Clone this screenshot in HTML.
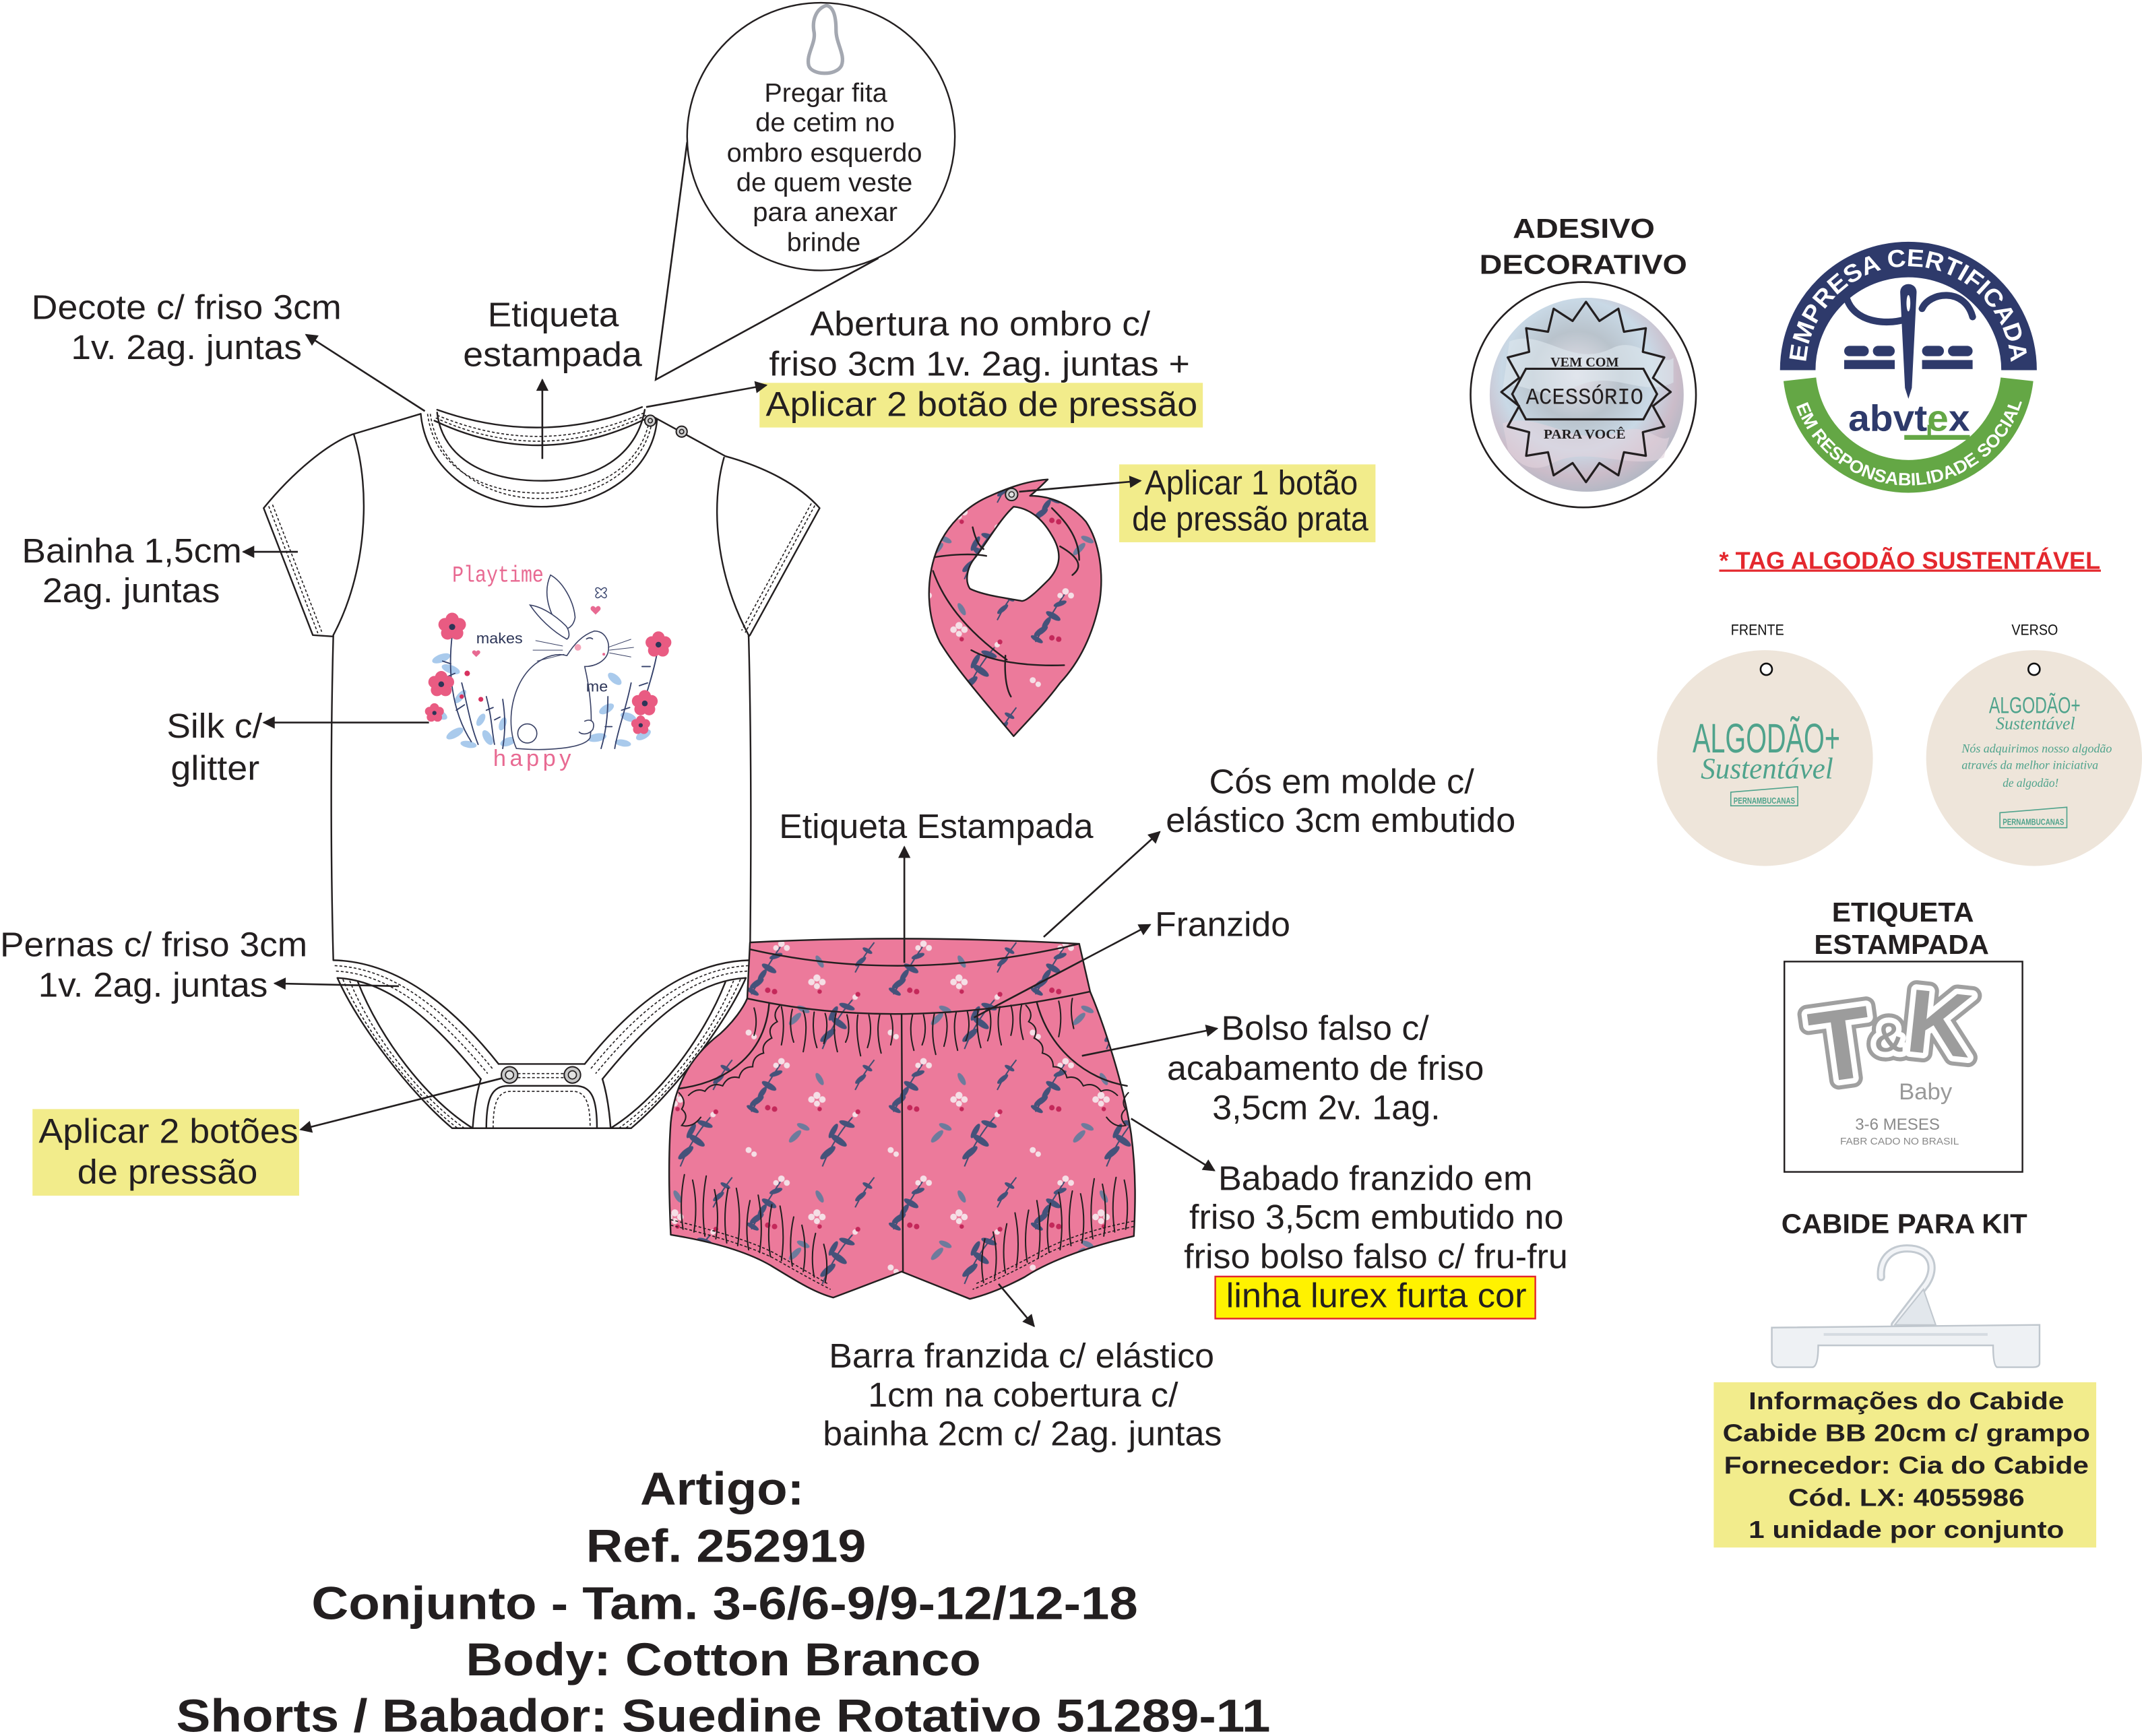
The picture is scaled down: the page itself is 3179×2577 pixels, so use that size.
<!DOCTYPE html>
<html><head><meta charset="utf-8">
<style>
html,body{margin:0;padding:0;background:#fff;}
svg{display:block;}
.l{font-family:"Liberation Sans Narrow","Liberation Sans",Arial,sans-serif;font-size:25px;fill:#231f20;}
.c{font-family:"Liberation Sans Narrow","Liberation Sans",Arial,sans-serif;font-size:19px;fill:#231f20;}
.b{font-family:"Liberation Sans Narrow","Liberation Sans",Arial,sans-serif;font-weight:bold;font-size:34px;fill:#231f20;}
.h{font-family:"Liberation Sans",Arial,sans-serif;font-weight:bold;font-size:20px;fill:#231f20;}
.i{font-family:"Liberation Sans",Arial,sans-serif;font-weight:bold;font-size:18px;fill:#231f20;}
.ln{stroke:#231f20;stroke-width:1.3;fill:none;}
.o{stroke:#231f20;stroke-width:1.2;fill:none;stroke-linecap:round;stroke-linejoin:round;}
.d{stroke:#231f20;stroke-width:0.8;fill:none;stroke-dasharray:2 1.5;}
.g{stroke:#231f20;stroke-width:1;fill:none;stroke-linecap:round;}
</style></head><body>
<svg xmlns="http://www.w3.org/2000/svg" xmlns:xlink="http://www.w3.org/1999/xlink" width="3179" height="2577" viewBox="0 0 1568 1271" preserveAspectRatio="none">
<defs>
<marker id="ah" viewBox="0 0 10 10" refX="9" refY="5" markerWidth="11" markerHeight="9" markerUnits="userSpaceOnUse" orient="auto">
<path d="M0,0 L10,5 L0,10 Z" fill="#231f20"/>
</marker>
<pattern id="fab" width="104" height="86" patternUnits="userSpaceOnUse" patternTransform="translate(540,684)">
<rect width="104" height="86" fill="#ec7a9b"/>
<g stroke="#3e4c70" stroke-width="1" fill="none">
<path d="M10,44 Q20,26 32,8"/><path d="M62,84 Q70,64 84,48"/><path d="M86,28 Q92,16 100,6"/>
</g>
<g fill="#44527a">
<ellipse cx="14" cy="36" rx="6" ry="2.2" transform="rotate(-35 14 36)"/>
<ellipse cx="23" cy="25" rx="6" ry="2.2" transform="rotate(30 23 25)"/>
<ellipse cx="18" cy="30" rx="5" ry="2" transform="rotate(-55 18 30)"/>
<ellipse cx="28" cy="16" rx="5" ry="1.8" transform="rotate(-20 28 16)"/>
<ellipse cx="11" cy="42" rx="5" ry="1.8" transform="rotate(30 11 42)"/>
<ellipse cx="66" cy="74" rx="7" ry="2.4" transform="rotate(-40 66 74)"/>
<ellipse cx="74" cy="65" rx="7" ry="2.4" transform="rotate(35 74 65)"/>
<ellipse cx="70" cy="58" rx="6" ry="2" transform="rotate(-60 70 58)"/>
<ellipse cx="80" cy="53" rx="6" ry="2" transform="rotate(20 80 53)"/>
<ellipse cx="90" cy="20" rx="5" ry="1.8" transform="rotate(-40 90 20)"/>
<ellipse cx="95" cy="12" rx="4" ry="1.5" transform="rotate(30 95 12)"/>
</g>
<g fill="#6d7b9c">
<ellipse cx="42" cy="62" rx="6" ry="2.2" transform="rotate(-45 42 62)"/>
<ellipse cx="48" cy="55" rx="5" ry="2" transform="rotate(25 48 55)"/>
<ellipse cx="60" cy="20" rx="5" ry="2" transform="rotate(60 60 20)"/>
</g>
<g fill="#f5dfe6">
<circle cx="32" cy="7" r="2.4"/><circle cx="36" cy="10" r="2.2"/><circle cx="28" cy="10" r="2"/>
<circle cx="58" cy="32" r="2.6"/><circle cx="62" cy="35" r="2.4"/><circle cx="54" cy="35" r="2.4"/><circle cx="58" cy="38" r="2.2"/>
<circle cx="8" cy="72" r="2.2"/><circle cx="12" cy="75" r="2"/><circle cx="86" cy="46" r="2"/>
</g>
<g fill="#c4285a">
<circle cx="22" cy="41" r="2"/><circle cx="27" cy="42" r="2"/><circle cx="88" cy="44" r="1.8"/><circle cx="60" cy="42" r="1.6"/>
</g>
</pattern>
<radialGradient id="holo" cx="45%" cy="40%" r="65%">
<stop offset="0" stop-color="#e6e2ea"/>
<stop offset="0.35" stop-color="#b9c3cc"/>
<stop offset="0.6" stop-color="#c9d9e6"/>
<stop offset="0.8" stop-color="#cbbcc9"/>
<stop offset="1" stop-color="#a9b6c2"/>
</radialGradient>
<g id="flw">
<circle cx="0" cy="-3.5" r="3" fill="#e95b82"/>
<circle cx="3.3" cy="-1.1" r="3" fill="#e95b82"/>
<circle cx="2.1" cy="2.8" r="3" fill="#e95b82"/>
<circle cx="-2.1" cy="2.8" r="3" fill="#e95b82"/>
<circle cx="-3.3" cy="-1.1" r="3" fill="#e95b82"/>
<circle cx="0" cy="0" r="1.4" fill="#2d3557"/>
</g>
</defs>

<rect width="1568" height="1271" fill="#fff"/>

<!-- ============ CALLOUT CIRCLE ============ -->
<ellipse cx="601" cy="100" rx="98" ry="98" class="o"/>
<path d="M605,4 C598,6 594,14 596,24 C597,32 590,40 592,48 C594,55 612,56 616,48 C619,40 612,32 612,22 C612,12 610,5 605,4 Z" fill="none" stroke="#a4a8b1" stroke-width="2.6"/>
<text class="c" x="559.5" y="74.4" textLength="90" lengthAdjust="spacingAndGlyphs">Pregar fita</text>
<text class="c" x="553" y="96.2" textLength="102" lengthAdjust="spacingAndGlyphs">de cetim no</text>
<text class="c" x="532" y="118.3" textLength="143" lengthAdjust="spacingAndGlyphs">ombro esquerdo</text>
<text class="c" x="539" y="140.1" textLength="129" lengthAdjust="spacingAndGlyphs">de quem veste</text>
<text class="c" x="551" y="161.9" textLength="106" lengthAdjust="spacingAndGlyphs">para anexar</text>
<text class="c" x="576" y="184" textLength="54" lengthAdjust="spacingAndGlyphs">brinde</text>
<path class="ln" d="M503,104 L480,278 L643,189"/>

<!-- ============ BODY LABELS ============ -->
<text class="l" x="23" y="233.5" textLength="227" lengthAdjust="spacingAndGlyphs">Decote c/ friso 3cm</text>
<text class="l" x="52" y="263" textLength="169" lengthAdjust="spacingAndGlyphs">1v. 2ag. juntas</text>
<text class="l" x="357" y="239" textLength="96" lengthAdjust="spacingAndGlyphs">Etiqueta</text>
<text class="l" x="339" y="268" textLength="131" lengthAdjust="spacingAndGlyphs">estampada</text>
<text class="l" x="593" y="245.7" textLength="249" lengthAdjust="spacingAndGlyphs">Abertura no ombro c/</text>
<text class="l" x="563" y="275" textLength="308" lengthAdjust="spacingAndGlyphs">friso 3cm 1v. 2ag. juntas +</text>
<rect x="556" y="280.3" width="324.5" height="32.7" fill="#f2ec8b"/>
<text class="l" x="560.6" y="304.5" textLength="316" lengthAdjust="spacingAndGlyphs">Aplicar 2 botão de pressão</text>
<text class="l" x="16" y="411.8" textLength="161" lengthAdjust="spacingAndGlyphs">Bainha 1,5cm</text>
<text class="l" x="31" y="441" textLength="130" lengthAdjust="spacingAndGlyphs">2ag. juntas</text>
<text class="l" x="122" y="540" textLength="70" lengthAdjust="spacingAndGlyphs">Silk c/</text>
<text class="l" x="125" y="571" textLength="65" lengthAdjust="spacingAndGlyphs">glitter</text>
<text class="l" x="0" y="700" textLength="225" lengthAdjust="spacingAndGlyphs">Pernas c/ friso 3cm</text>
<text class="l" x="28" y="729.8" textLength="168" lengthAdjust="spacingAndGlyphs">1v. 2ag. juntas</text>
<rect x="23.8" y="812" width="195.2" height="63.4" fill="#f2ec8b"/>
<text class="l" x="28.3" y="836.7" textLength="190" lengthAdjust="spacingAndGlyphs">Aplicar 2 botões</text>
<text class="l" x="56.6" y="866.6" textLength="132" lengthAdjust="spacingAndGlyphs">de pressão</text>

<!-- arrows body -->
<path class="ln" d="M311,301 L224,245" marker-end="url(#ah)"/>
<path class="ln" d="M397,336 L397,278" marker-end="url(#ah)"/>
<path class="ln" d="M473,298 L561,282" marker-end="url(#ah)"/>
<path class="ln" d="M218,404 L178,404" marker-end="url(#ah)"/>
<path class="ln" d="M314,529 L193,529" marker-end="url(#ah)"/>
<path class="ln" d="M292,722 L201,720" marker-end="url(#ah)"/>
<path class="ln" d="M373,788 L220,827" marker-end="url(#ah)"/>

<!-- ============ BODY GARMENT ============ -->
<g>
<path class="o" d="M320,300 Q396,327 470,298"/>
<path class="o" d="M318,308 Q396,345 474,306"/>
<path class="d" d="M320,304 Q396,336 472,302"/>
<path class="d" d="M319,306 Q396,341 473,304"/>
<path class="o" d="M308,303 C312,345 350,371 396,371 C440,371 478,345 481,307"/>
<path class="o" d="M320,302 C324,336 356,352 396,352 C436,352 466,334 472,300"/>
<path class="d" d="M313,303 C318,342 352,361 396,361 C438,361 472,340 476,303"/>
<path class="d" d="M315,303 C320,340 353,365 396,365 C438,365 474,342 478,304"/>
<path class="o" d="M308,303 L258,318"/>
<path class="o" d="M478,305 L531,334"/>
<circle cx="476" cy="308" r="4" fill="#cfcfcf" stroke="#231f20" stroke-width="1"/>
<circle cx="476" cy="308" r="1.6" fill="none" stroke="#231f20" stroke-width="0.8"/>
<circle cx="499" cy="316" r="4" fill="#cfcfcf" stroke="#231f20" stroke-width="1"/>
<circle cx="499" cy="316" r="1.6" fill="none" stroke="#231f20" stroke-width="0.8"/>
<path class="o" d="M258,318 C240,325 215,345 193,372 L229,465 L244,466"/>
<path class="o" d="M259,318 C272,360 268,420 244,465"/>
<path class="d" d="M196.7,370.6 L232.7,463.6"/>
<path class="d" d="M199.5,369.5 L235.5,462.5"/>
<path class="o" d="M531,334 C560,342 585,355 600,372 L549,465 L548,466"/>
<path class="o" d="M530,335 C520,370 524,420 548,465"/>
<path class="d" d="M596.5,370.1 L545.5,463.1"/>
<path class="d" d="M593.9,368.6 L542.9,461.6"/>
<path class="o" d="M244,465 C242,540 242,630 244,703"/>
<path class="o" d="M548,465 C550,540 550,620 549,703"/>
<path class="o" d="M244,703 C290,704 330,735 365,779"/>
<path class="o" d="M247,716 C285,718 318,748 352,790"/>
<path class="d" d="M245,707 C289,709 326,740 361,783"/>
<path class="d" d="M246,711 C287,713 322,744 357,786"/>
<path class="o" d="M247,716 C262,750 300,800 331,826"/>
<path class="o" d="M262,719 C278,760 312,805 346,826"/>
<path class="d" d="M251,717 C266,753 303,802 335,826"/>
<path class="d" d="M256,718 C271,756 307,803 340,826"/>
<path class="o" d="M549,703 C503,704 463,735 428,779"/>
<path class="o" d="M546,716 C508,718 475,748 441,790"/>
<path class="d" d="M548,707 C504,709 467,740 432,783"/>
<path class="d" d="M547,711 C506,713 471,744 436,786"/>
<path class="o" d="M546,716 C531,750 493,800 462,826"/>
<path class="o" d="M531,719 C515,760 481,805 447,826"/>
<path class="d" d="M542,717 C527,753 490,802 458,826"/>
<path class="d" d="M537,718 C522,756 486,803 453,826"/>
<path class="o" d="M331,826 L462,826"/>
<path class="o" d="M365,779 L428,779"/>
<path class="o" d="M352,790 C349,800 347,812 346,826"/>
<path class="o" d="M441,790 C444,800 446,812 447,826"/>
<path class="o" d="M356,826 C356,804 360,795 372,795 L421,795 C433,795 437,804 437,826"/>
<path class="d" d="M361,826 C361,808 364,799 374,799 L419,799 C429,799 432,808 432,826"/>
<path class="d" d="M379,786 L413,786"/>
<path class="d" d="M379,789 L413,789"/>
<circle cx="373" cy="787" r="6" fill="#c9c9c9" stroke="#231f20" stroke-width="1"/>
<circle cx="373" cy="787" r="3" fill="#e2e2e2" stroke="#231f20" stroke-width="0.8"/>
<circle cx="419" cy="787" r="6" fill="#c9c9c9" stroke="#231f20" stroke-width="1"/>
<circle cx="419" cy="787" r="3" fill="#e2e2e2" stroke="#231f20" stroke-width="0.8"/>
</g>

<!-- ============ PRINT ============ -->
<g>
<g fill="#a9caec">
<ellipse cx="323" cy="482" rx="7" ry="3" transform="rotate(-20 323 482)"/>
<ellipse cx="330" cy="490" rx="7" ry="3" transform="rotate(20 330 490)"/>
<ellipse cx="322" cy="523" rx="6" ry="3" transform="rotate(30 322 523)"/>
<ellipse cx="337" cy="510" rx="6" ry="2.5" transform="rotate(-50 337 510)"/>
<ellipse cx="333" cy="537" rx="7" ry="3" transform="rotate(-30 333 537)"/>
<ellipse cx="352" cy="527" rx="5" ry="2.5" transform="rotate(-60 352 527)"/>
<ellipse cx="357" cy="540" rx="6" ry="3" transform="rotate(60 357 540)"/>
<ellipse cx="368" cy="530" rx="5" ry="2.5" transform="rotate(-70 368 530)"/>
<ellipse cx="372" cy="543" rx="6" ry="3" transform="rotate(-20 372 543)"/>
<ellipse cx="343" cy="545" rx="6" ry="2.5" transform="rotate(10 343 545)"/>
<ellipse cx="450" cy="497" rx="6" ry="3" transform="rotate(40 450 497)"/>
<ellipse cx="444" cy="519" rx="6" ry="3" transform="rotate(-30 444 519)"/>
<ellipse cx="460" cy="525" rx="6" ry="3" transform="rotate(20 460 525)"/>
<ellipse cx="437" cy="540" rx="7" ry="3" transform="rotate(-10 437 540)"/>
<ellipse cx="471" cy="538" rx="6" ry="3" transform="rotate(-30 471 538)"/>
<ellipse cx="456" cy="544" rx="6" ry="2.5" transform="rotate(10 456 544)"/>
</g>
<g stroke="#34406a" stroke-width="0.9" fill="none" stroke-linecap="round">
<path d="M331,465 C328,490 330,520 345,543"/>
<path d="M338,500 C342,515 344,530 350,545"/>
<path d="M356,510 C360,525 360,535 362,545"/>
<path d="M368,512 C370,525 370,535 368,548"/>
<path d="M481,478 C478,495 472,510 470,520"/>
<path d="M462,500 C458,520 452,535 450,548"/>
<path d="M445,510 C445,525 443,538 440,548"/>
<path d="M324,484 l6,2 M326,496 l7,-3 M334,520 l6,-4 M356,520 l5,-2 M366,525 l-4,2 M476,488 l-6,0 M474,500 l-6,2 M455,520 l6,-2 M448,532 l-5,0"/>
</g>
<use xlink:href="#flw" href="#flw" transform="translate(331 459) scale(1.6)"/>
<use xlink:href="#flw" href="#flw" transform="translate(323 501) scale(1.5)"/>
<use xlink:href="#flw" href="#flw" transform="translate(482 472) scale(1.5)"/>
<use xlink:href="#flw" href="#flw" transform="translate(472 515) scale(1.5)"/>
<use xlink:href="#flw" href="#flw" transform="translate(469 531) scale(1.1)"/>
<use xlink:href="#flw" href="#flw" transform="translate(318 522) scale(1.1)"/>
<circle cx="342" cy="493" r="2" fill="#d8325f"/><circle cx="352" cy="512" r="1.8" fill="#d8325f"/><circle cx="338" cy="510" r="1.6" fill="#d8325f"/>
<path d="M436,445 c-2,-3 -5,0 -3,2 l3,3 l3,-3 c2,-2 -1,-5 -3,-2z" fill="#e86a92"/>
<path d="M348.6,477 c-1.5,-2 -4,0 -2.5,1.6 l2.5,2.4 l2.5,-2.4 c1.5,-1.6 -1,-3.6 -2.5,-1.6z" fill="#e86a92"/>
<path d="M440,432 c-3,-4 -6,0 -2,2 c-4,2 -1,6 2,2 c3,4 6,0 2,-2 c4,-2 1,-6 -2,-2z" fill="none" stroke="#34406a" stroke-width="0.7"/>
<g stroke="#3a4266" stroke-width="0.8" fill="#fff" stroke-linecap="round">
<path d="M403,421 C398,432 400,446 410,460 C416,462 420,458 421,452 C420,440 412,426 403,421 Z"/>
<path d="M388,443 C394,452 404,462 415,468 C418,466 416,460 414,458 C406,450 396,444 388,443 Z"/>
<path d="M378,548 C370,530 374,500 392,486 C400,480 408,478 415,480 C420,472 426,465 435,462 C443,462 447,470 445,478 C443,484 436,488 428,488 C432,505 434,525 432,540 C428,548 400,550 378,548 Z"/>
<circle cx="386" cy="537" r="7"/>
<path d="M428,528 c4,-2 8,0 6,6 c-3,4 -8,4 -10,2" />
</g>
<circle cx="423" cy="474" r="2.4" fill="#f4a3b9"/>
<path d="M429,468 q3,-2 5,0" stroke="#3a4266" stroke-width="0.8" fill="none"/>
<circle cx="442" cy="479" r="1" fill="#e86a92"/>
<g stroke="#3a4266" stroke-width="0.5" fill="none">
<path d="M445,474 l17,-6 M446,476 l18,-2 M446,478 l16,3"/>
<path d="M412,473 l-20,-4 M412,476 l-22,0 M413,479 l-20,5"/>
</g>
<text x="331" y="426" font-family="Liberation Mono, monospace" font-size="17" fill="#e86a92" textLength="67" lengthAdjust="spacingAndGlyphs">Playtime</text>
<text x="348.6" y="471" font-family="Liberation Sans, sans-serif" font-size="11" fill="#2d3557" textLength="34" lengthAdjust="spacingAndGlyphs">makes</text>
<text x="429" y="506.4" font-family="Liberation Sans, sans-serif" font-size="11" fill="#2d3557" textLength="16" lengthAdjust="spacingAndGlyphs">me</text>
<text x="361" y="560.7" font-family="Liberation Sans, sans-serif" font-size="17" fill="#e86a92" textLength="57" lengthAdjust="spacing">happy</text>
</g>

<!-- ============ BIB ============ -->
<path d="M742,539 C722,515 700,490 688,470 C678,450 678,425 685,405 C692,385 708,370 725,363 C738,357 752,352 767,351 C762,356 758,360 754,363 C770,363 785,370 795,382 C805,397 808,420 805,440 C800,465 790,485 776,500 C765,515 752,528 742,539 Z" class="o" style="fill:url(#fab)"/>
<path d="M742,371 C752,372 762,378 770,392 C778,405 776,415 768,424 C760,432 752,440 748,440 C738,438 720,436 710,431 C706,425 708,415 714,408 C722,398 732,380 742,371 Z" class="o" style="fill:#fff"/>
<path class="o" d="M684,408 C695,406 712,405 722,407"/>
<path class="o" d="M683,418 C690,438 705,460 737,483"/>
<path class="o" d="M711,476 C725,484 750,488 779,487"/>
<path class="o" d="M776,400 C790,408 793,415 785,421"/>
<path class="o" d="M712,386 C714,395 717,400 720,402"/>
<path class="o" d="M770,372 C778,380 790,392 790,410"/>
<path class="o" d="M736,480 C735,495 737,505 740,510"/>
<circle cx="740.5" cy="362" r="4.5" fill="#c9c9c9" stroke="#231f20" stroke-width="1"/>
<circle cx="740.5" cy="362" r="2" fill="#e2e2e2" stroke="#231f20" stroke-width="0.7"/>
<rect x="819.3" y="340" width="187.6" height="57" fill="#f2ec8b"/>
<path class="ln" d="M746,360 L835,352" marker-end="url(#ah)"/>
<text class="l" x="838" y="362" textLength="156" lengthAdjust="spacingAndGlyphs">Aplicar 1 botão</text>
<text class="l" x="828.7" y="388.4" textLength="173" lengthAdjust="spacingAndGlyphs">de pressão prata</text>

<!-- ============ SHORTS ============ -->
<path d="M549,690 Q662,684 790,691 L798,726 C806,745 822,790 828,830 C832,860 831,885 830,905 C800,912 770,922 750,935 C735,943 722,948 710,951 L660,931 L610,950 C595,946 580,936 565,927 C545,915 515,908 491,904 C490,880 489,850 491,822 C494,790 510,770 527,757 C537,748 544,738 547,731 Z" class="o" style="fill:url(#fab)"/>
<path class="o" d="M549,695 Q662,721 790,691"/>
<path class="o" d="M547,731 Q660,756 798,726"/>
<path class="o" d="M660,743 L661,931"/>
<path class="o" d="M563,735 C560,770 535,792 497,797"/>
<path class="o" d="M759,734 C768,768 795,790 825,795"/>
<path class="g" d="M571,736 q-6,6 -2,12 q-8,4 -4,12 q-8,4 -6,11 q-8,2 -8,10 q-8,0 -10,8 q-8,-2 -12,6 q-8,-3 -13,4 q-6,-3 -12,3 M497,800 q6,6 2,12 q6,5 0,12 q8,2 14,-6"/>
<path class="g" d="M751,736 q6,6 2,12 q8,4 4,12 q8,4 6,11 q8,2 8,10 q8,0 10,8 q8,-2 12,6 q8,-3 13,4 q6,-3 12,3 M826,800 q-6,6 -2,12 q-6,5 0,12 q-8,2 -14,-6"/>
<g class="g">
<path d="M572,737 q3,14 0,28 M580,739 q-3,12 1,24 M588,740 q4,10 0,30 M596,741 q-2,14 2,26 M604,742 q3,9 -1,22 M612,742 q-3,12 1,28 M620,743 q3,12 -1,20 M628,743 q-2,12 2,30 M636,743 q3,12 -1,24 M644,743 q-3,12 1,28 M652,743 q3,10 0,22"/>
<path d="M668,743 q-3,12 1,26 M676,743 q3,12 -1,22 M684,742 q-3,14 1,30 M692,742 q3,10 -1,24 M700,741 q-3,12 1,28 M708,740 q3,12 -1,22 M716,739 q-2,14 2,28 M724,738 q3,12 -1,24 M732,737 q-3,12 1,28 M740,736 q3,10 0,22 M748,735 q-3,12 1,26"/>
<path d="M552,738 q3,10 0,20 M775,733 q3,12 0,26 M785,731 q-2,10 1,22"/>
<path d="M500,900 q-3,-20 1,-40 M508,902 q3,-20 -1,-38 M516,905 q-3,-22 1,-44 M524,907 q3,-18 -1,-36 M532,910 q-3,-20 1,-40 M540,912 q3,-22 -1,-42 M548,915 q-3,-18 1,-36 M556,917 q3,-20 -1,-42 M564,920 q-3,-18 1,-38 M572,923 q3,-20 -1,-40 M580,927 q-3,-18 1,-36 M588,931 q3,-18 -1,-34 M596,935 q-3,-16 1,-32 M604,939 q3,-14 -1,-28"/>
<path d="M720,939 q-3,-16 1,-32 M728,936 q3,-18 -1,-34 M736,932 q-3,-18 1,-36 M744,928 q3,-20 -1,-40 M752,924 q-3,-18 1,-38 M760,921 q3,-20 -1,-42 M768,917 q-3,-18 1,-36 M776,915 q3,-22 -1,-42 M784,912 q-3,-20 1,-40 M792,910 q3,-18 -1,-36 M800,907 q-3,-22 1,-44 M808,905 q3,-20 -1,-38 M816,902 q-3,-20 1,-40 M824,900 q3,-18 -1,-36"/>
</g>
<path class="d" d="M491,897 C520,904 548,912 566,921 C582,930 596,938 608,944"/>
<path class="d" d="M491,893 C520,900 548,908 566,917 C582,926 596,934 606,940"/>
<path class="d" d="M830,898 C800,904 780,911 766,918 C748,928 728,938 712,944"/>
<path class="d" d="M830,894 C800,900 780,907 766,914 C748,924 728,934 714,940"/>

<!-- shorts labels -->
<text class="l" x="570.3" y="613.5" textLength="230" lengthAdjust="spacingAndGlyphs">Etiqueta Estampada</text>
<text class="l" x="885.1" y="580.7" textLength="194" lengthAdjust="spacingAndGlyphs">Cós em molde c/</text>
<text class="l" x="853.4" y="609" textLength="256" lengthAdjust="spacingAndGlyphs">elástico 3cm embutido</text>
<text class="l" x="845.5" y="685.2" textLength="99" lengthAdjust="spacingAndGlyphs">Franzido</text>
<text class="l" x="894" y="761.3" textLength="152" lengthAdjust="spacingAndGlyphs">Bolso falso c/</text>
<text class="l" x="854.3" y="790.7" textLength="232" lengthAdjust="spacingAndGlyphs">acabamento de friso</text>
<text class="l" x="887.4" y="819.4" textLength="167" lengthAdjust="spacingAndGlyphs">3,5cm 2v. 1ag.</text>
<text class="l" x="891.8" y="871.3" textLength="230" lengthAdjust="spacingAndGlyphs">Babado franzido em</text>
<text class="l" x="870.6" y="899.7" textLength="274" lengthAdjust="spacingAndGlyphs">friso 3,5cm embutido no</text>
<text class="l" x="866.7" y="928.4" textLength="281" lengthAdjust="spacingAndGlyphs">friso bolso falso c/ fru-fru</text>
<rect x="889.6" y="934.6" width="234.3" height="30.8" fill="#fff200" stroke="#e3262d" stroke-width="1.2"/>
<text class="l" x="897.5" y="957.1" textLength="220" lengthAdjust="spacingAndGlyphs">linha lurex furta cor</text>
<text class="l" x="606.8" y="1001.1" textLength="282" lengthAdjust="spacingAndGlyphs">Barra franzida c/ elástico</text>
<text class="l" x="635.4" y="1029.8" textLength="227" lengthAdjust="spacingAndGlyphs">1cm na cobertura c/</text>
<text class="l" x="602.4" y="1058.2" textLength="292" lengthAdjust="spacingAndGlyphs">bainha 2cm c/ 2ag. juntas</text>
<path class="ln" d="M662,705 L662,620" marker-end="url(#ah)"/>
<path class="ln" d="M764,686 L849,609" marker-end="url(#ah)"/>
<path class="ln" d="M713,745 L842,677" marker-end="url(#ah)"/>
<path class="ln" d="M792,773 L891,753" marker-end="url(#ah)"/>
<path class="ln" d="M828,819 L889,857" marker-end="url(#ah)"/>
<path class="ln" d="M731,940 L757,971" marker-end="url(#ah)"/>

<!-- ============ BOTTOM TEXT ============ -->
<text class="b" x="468.6" y="1101.6" textLength="120" lengthAdjust="spacingAndGlyphs">Artigo:</text>
<text class="b" x="429" y="1143.6" textLength="205" lengthAdjust="spacingAndGlyphs">Ref. 252919</text>
<text class="b" x="228" y="1185.5" textLength="605" lengthAdjust="spacingAndGlyphs">Conjunto - Tam. 3-6/6-9/9-12/12-18</text>
<text class="b" x="341" y="1226.6" textLength="377" lengthAdjust="spacingAndGlyphs">Body: Cotton Branco</text>
<text class="b" x="129" y="1267.7" textLength="801" lengthAdjust="spacingAndGlyphs">Shorts / Babador: Suedine Rotativo 51289-11</text>

<!-- ============ ADESIVO ============ -->
<text class="h" x="1107.4" y="174" textLength="104" lengthAdjust="spacingAndGlyphs">ADESIVO</text>
<text class="h" x="1083" y="200.4" textLength="152" lengthAdjust="spacingAndGlyphs">DECORATIVO</text>
<ellipse cx="1159" cy="289" rx="82.5" ry="82.5" fill="#fff" stroke="#231f20" stroke-width="1.3"/>
<circle cx="1161.5" cy="289" r="71" fill="url(#holo)"/>
<path d="M1105,250 C1130,240 1150,270 1180,255 C1200,245 1215,270 1225,262 L1225,280 C1200,292 1180,268 1150,285 C1130,296 1110,275 1100,285 Z" fill="#dde8ef" opacity="0.6"/>
<path d="M1100,310 C1130,300 1150,330 1190,315 C1205,310 1215,325 1222,320 L1218,335 C1195,345 1160,325 1135,340 C1118,348 1108,335 1104,330 Z" fill="#e3d4de" opacity="0.6"/>
<polygon fill="none" stroke="#231f20" stroke-width="1.6" stroke-linejoin="round" points="1223,287 1210,297.3 1218.3,312.3 1202.6,316.4 1204.8,333.7 1188.8,331.1 1184.7,348 1170.8,339 1161,353 1151.2,339 1137.3,348 1133.2,331.1 1117.2,333.7 1119.4,316.4 1103.7,312.3 1112,297.3 1099,287 1112,276.7 1103.7,261.7 1119.4,257.6 1117.2,240.3 1133.2,242.9 1137.3,226 1151.2,235 1161,221 1170.8,235 1184.7,226 1188.8,242.9 1204.8,240.3 1202.6,257.6 1218.3,261.7 1210,276.7"/>
<polygon fill="none" stroke="#231f20" stroke-width="1.6" points="1107,288.5 1117,270 1203,270 1213,288.5 1203,307 1117,307"/>
<text x="1135" y="268.3" font-family="Liberation Serif, serif" font-weight="bold" font-size="10" fill="#231f20" textLength="50" lengthAdjust="spacingAndGlyphs">VEM COM</text>
<text x="1117" y="295.7" font-family="Liberation Mono, monospace" font-size="17" fill="#231f20" textLength="86" lengthAdjust="spacingAndGlyphs">ACESSÓRIO</text>
<text x="1130" y="321.2" font-family="Liberation Serif, serif" font-weight="bold" font-size="10" fill="#231f20" textLength="60" lengthAdjust="spacingAndGlyphs">PARA VOCÊ</text>

<!-- ============ ABVTEX ============ -->
<path d="M1316,271 A81,81 0 0 1 1478,271" fill="none" stroke="#2e3a6b" stroke-width="26"/>
<path d="M1317.5,277.7 A80,80 0 0 0 1476.5,277.7" fill="none" stroke="#64a745" stroke-width="24"/>
<path id="arcTop" d="M1322,270 A75,75 0 0 1 1472,270" fill="none"/>
<path id="arcBot" d="M1313.4,292.5 A87,87 0 0 0 1481.4,289.5" fill="none"/>
<text font-family="Liberation Sans, Arial, sans-serif" font-weight="bold" font-size="18" fill="#fff"><textPath xlink:href="#arcTop" href="#arcTop" startOffset="50%" text-anchor="middle" textLength="226" lengthAdjust="spacingAndGlyphs">EMPRESA CERTIFICADA</textPath></text>
<text font-family="Liberation Sans, Arial, sans-serif" font-weight="bold" font-size="13" fill="#fff"><textPath xlink:href="#arcBot" href="#arcBot" startOffset="50%" text-anchor="middle" textLength="218" lengthAdjust="spacingAndGlyphs">EM RESPONSABILIDADE SOCIAL</textPath></text>
<path d="M1391,214 C1391,206 1403,206 1403,214 L1399.5,284 L1397,292 L1394.5,284 Z" fill="#2e3a6b"/>
<ellipse cx="1397" cy="222" rx="1.4" ry="6" fill="#fff"/>
<path d="M1352,219 C1358,236 1380,238 1394,234" stroke="#2e3a6b" stroke-width="5" fill="none" stroke-linecap="round"/>
<path d="M1407,226 C1412,214 1438,210 1444,232" stroke="#2e3a6b" stroke-width="5" fill="none" stroke-linecap="round"/>
<g fill="#2e3a6b">
<rect x="1350" y="253.2" width="18" height="7.6" rx="3.8"/>
<rect x="1371" y="253.2" width="16" height="7.6" rx="3.8"/>
<rect x="1407" y="253.2" width="16" height="7.6" rx="3.8"/>
<rect x="1426" y="253.2" width="18" height="7.6" rx="3.8"/>
<rect x="1350" y="263.6" width="37" height="6.6"/>
<rect x="1407" y="263.6" width="37" height="6.6"/>
</g>
<text x="1353" y="315.5" font-family="Liberation Sans, Arial, sans-serif" font-weight="bold" font-size="27" fill="#2e3a6b" textLength="89" lengthAdjust="spacingAndGlyphs">abvt<tspan fill="#64a745">e</tspan>x</text>
<rect x="1394" y="318.5" width="48" height="3.5" fill="#64a745"/>
<rect x="1411" y="311" width="2.5" height="9" fill="#64a745"/>

<!-- ============ TAG ALGODAO ============ -->
<text x="1258.5" y="416.4" font-family="Liberation Sans Narrow, Liberation Sans, Arial, sans-serif" font-weight="bold" font-size="18" fill="#e4282e" textLength="279" lengthAdjust="spacingAndGlyphs">* TAG ALGODÃO SUSTENTÁVEL</text>
<rect x="1258.5" y="417" width="279.4" height="1.6" fill="#e4282e"/>
<text x="1267" y="464.8" font-family="Liberation Sans, Arial, sans-serif" font-size="11" fill="#111" textLength="39" lengthAdjust="spacingAndGlyphs">FRENTE</text>
<text x="1472.5" y="464.8" font-family="Liberation Sans, Arial, sans-serif" font-size="11" fill="#111" textLength="34" lengthAdjust="spacingAndGlyphs">VERSO</text>
<circle cx="1292" cy="555" r="79" fill="#eee5da"/>
<circle cx="1489" cy="555" r="79" fill="#eee5da"/>
<circle cx="1293" cy="490" r="4.2" fill="#fff" stroke="#111" stroke-width="1.3"/>
<circle cx="1489" cy="490" r="4.2" fill="#fff" stroke="#111" stroke-width="1.3"/>
<text x="1239" y="551" font-family="Liberation Sans Narrow, Liberation Sans, sans-serif" font-size="30" fill="#4fa38c" textLength="108" lengthAdjust="spacingAndGlyphs">ALGODÃO+</text>
<text x="1245" y="570" font-family="Liberation Serif, serif" font-style="italic" font-size="22" fill="#4fa38c" textLength="97" lengthAdjust="spacingAndGlyphs">Sustentável</text>
<path d="M1267,580 L1316,576 L1316,590 L1267,590 Z" fill="none" stroke="#4fa38c" stroke-width="0.8"/>
<text x="1269" y="588.5" font-family="Liberation Sans Narrow, Liberation Sans, sans-serif" font-weight="bold" font-size="6.5" fill="#4fa38c" textLength="45" lengthAdjust="spacingAndGlyphs">PERNAMBUCANAS</text>
<text x="1456" y="522" font-family="Liberation Sans Narrow, Liberation Sans, sans-serif" font-size="17" fill="#4fa38c" textLength="67" lengthAdjust="spacingAndGlyphs">ALGODÃO+</text>
<text x="1461" y="534" font-family="Liberation Serif, serif" font-style="italic" font-size="13" fill="#4fa38c" textLength="58" lengthAdjust="spacingAndGlyphs">Sustentável</text>
<text x="1436" y="551" font-family="Liberation Serif, serif" font-style="italic" font-size="9" fill="#4fa38c" textLength="110" lengthAdjust="spacingAndGlyphs">Nós adquirimos nosso algodão</text>
<text x="1436" y="563" font-family="Liberation Serif, serif" font-style="italic" font-size="9" fill="#4fa38c" textLength="100" lengthAdjust="spacingAndGlyphs">através da melhor iniciativa</text>
<text x="1466" y="576" font-family="Liberation Serif, serif" font-style="italic" font-size="9" fill="#4fa38c" textLength="41" lengthAdjust="spacingAndGlyphs">de algodão!</text>
<path d="M1464,595 L1513,591 L1513,606 L1464,606 Z" fill="none" stroke="#4fa38c" stroke-width="0.8"/>
<text x="1466" y="604" font-family="Liberation Sans Narrow, Liberation Sans, sans-serif" font-weight="bold" font-size="6.5" fill="#4fa38c" textLength="45" lengthAdjust="spacingAndGlyphs">PERNAMBUCANAS</text>

<!-- ============ ETIQUETA ESTAMPADA ============ -->
<text class="h" x="1341" y="674.7" textLength="104" lengthAdjust="spacingAndGlyphs">ETIQUETA</text>
<text class="h" x="1328" y="698.3" textLength="128" lengthAdjust="spacingAndGlyphs">ESTAMPADA</text>
<rect x="1306.2" y="704" width="174.3" height="154" fill="#fff" stroke="#231f20" stroke-width="1.2"/>
<g font-family="Liberation Sans, Arial, sans-serif" font-weight="bold">
<g stroke="#a0a0a0" stroke-width="14" stroke-linejoin="round" fill="#a0a0a0">
<text x="1326" y="790" font-size="74" transform="rotate(-8 1350 770)">T</text>
<text x="1372" y="770" font-size="30">&amp;</text>
<text x="1396" y="772" font-size="66" transform="rotate(6 1420 750)">K</text>
</g>
<g stroke="#ffffff" stroke-width="8" stroke-linejoin="round" fill="#9c9c9c">
<text x="1326" y="790" font-size="74" transform="rotate(-8 1350 770)">T</text>
<text x="1372" y="770" font-size="30">&amp;</text>
<text x="1396" y="772" font-size="66" transform="rotate(6 1420 750)">K</text>
</g>
<g fill="#9c9c9c">
<text x="1326" y="790" font-size="74" transform="rotate(-8 1350 770)">T</text>
<text x="1372" y="770" font-size="30">&amp;</text>
<text x="1396" y="772" font-size="66" transform="rotate(6 1420 750)">K</text>
</g>
</g>
<text x="1390" y="805" font-family="Liberation Sans, Arial, sans-serif" font-size="17" fill="#999" textLength="39" lengthAdjust="spacingAndGlyphs">Baby</text>
<text x="1358" y="827" font-family="Liberation Sans, Arial, sans-serif" font-size="12" fill="#8a8a8a" textLength="62" lengthAdjust="spacingAndGlyphs">3-6 MESES</text>
<text x="1347" y="838" font-family="Liberation Sans, Arial, sans-serif" font-size="7.5" fill="#8a8a8a" textLength="87" lengthAdjust="spacingAndGlyphs">FABR CADO NO BRASIL</text>

<!-- ============ CABIDE ============ -->
<text class="h" x="1304" y="902.8" textLength="180" lengthAdjust="spacingAndGlyphs">CABIDE PARA KIT</text>
<path d="M1387,970 L1410,940 C1418,928 1414,914 1396,914 C1384,914 1376,922 1377,935" fill="none" stroke="#c3cad1" stroke-width="6" stroke-linecap="round"/>
<path d="M1387,970 L1410,940 C1418,928 1414,914 1396,914 C1384,914 1376,922 1377,935" fill="none" stroke="#f2f4f7" stroke-width="3" stroke-linecap="round"/>
<polygon points="1387,970 1408,944 1417,970" fill="#e2e7ec" stroke="#c0c7ce" stroke-width="1"/>
<path d="M1297,972 L1493,970 L1493,998 Q1493,1001 1488,1001 L1462,1001 Q1459,1000 1459,985 L1331,985 Q1331,1000 1327,1001 L1301,1001 Q1297,1000 1297,996 Z" fill="#eef1f4" stroke="#bfc6cd" stroke-width="1.2"/>
<path d="M1335,977 L1455,977" stroke="#d5dbe1" stroke-width="2"/>
<rect x="1254.5" y="1012" width="280" height="121" fill="#f2ec8c"/>
<text class="i" x="1280" y="1031.7" textLength="231" lengthAdjust="spacingAndGlyphs">Informações do Cabide</text>
<text class="i" x="1261" y="1055.3" textLength="269" lengthAdjust="spacingAndGlyphs">Cabide BB 20cm c/ grampo</text>
<text class="i" x="1262" y="1079" textLength="267" lengthAdjust="spacingAndGlyphs">Fornecedor: Cia do Cabide</text>
<text class="i" x="1309" y="1102.5" textLength="173" lengthAdjust="spacingAndGlyphs">Cód. LX: 4055986</text>
<text class="i" x="1280" y="1126.1" textLength="231" lengthAdjust="spacingAndGlyphs">1 unidade por conjunto</text>
</svg>
</body></html>
